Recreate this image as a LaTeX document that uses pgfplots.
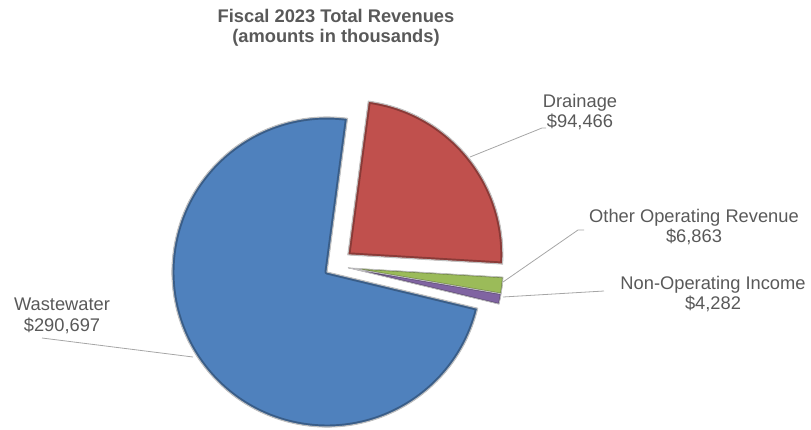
\documentclass[border=0pt]{standalone}
\usepackage{pgfplots}
\pgfplotsset{compat=1.18}
\usepackage{pgfplotstable}
\usepackage{fontspec}
\setmainfont{Liberation Sans}
\definecolor{cBlue}{HTML}{4F81BD}
\definecolor{cRed}{HTML}{C0504D}
\definecolor{cGreen}{HTML}{9BBB59}
\definecolor{cPurple}{HTML}{8064A2}
\definecolor{txt}{HTML}{595959}
\definecolor{lead}{HTML}{A6A6A6}
\tikzset{
  bevel/.style={draw=#1!72!black, line width=5pt, line join=round},
  thin bevel/.style={draw=#1!70!black, line width=2pt, line join=round},
  rim/.style={draw=gray!50, line width=1.1pt, line join=round},
  lab/.style={anchor=base, text=txt, font=\fontsize{18.3}{21}\selectfont},
}

\pgfplotstableread[col sep=comma]{
name,value
Drainage,94466
Other Operating Revenue,6863
Non-Operating Income,4282
Wastewater,290697
}\revenue

\begin{document}
\begin{tikzpicture}
\pgfplotstablegetelem{0}{value}\of\revenue \edef\vD{\pgfplotsretval}
\pgfplotstablegetelem{1}{value}\of\revenue \edef\vO{\pgfplotsretval}
\pgfplotstablegetelem{2}{value}\of\revenue \edef\vN{\pgfplotsretval}
\pgfplotstablegetelem{3}{value}\of\revenue \edef\vW{\pgfplotsretval}
\edef\tot{\fpeval{\vD+\vO+\vN+\vW}}
\def\aS{82.4}
\edef\eD{\fpeval{\aS-360*\vD/\tot}}
\edef\eO{\fpeval{\eD-360*\vO/\tot}}
\edef\eN{\fpeval{\eO-360*\vN/\tot}}
\edef\eW{\fpeval{\eN-360*\vW/\tot}}
\edef\mD{\fpeval{(\aS+\eD)/2}}
\def\pW{(axis cs:327,272) -- ++(\eN:155pt) arc[start angle=\eN, end angle=\eW, radius=155pt] -- cycle}
\def\pD{([shift={(\mD:27pt)}]axis cs:327,272) -- ++(\aS:155pt) arc[start angle=\aS, end angle=\eD, radius=155pt] -- cycle}
\def\pO{([shift={(11:21.7pt)}]axis cs:327,272) -- ++(\eD:155pt) arc[start angle=\eD, end angle=\eO, radius=155pt] -- cycle}
\def\pN{([shift={(11:21.7pt)}]axis cs:327,272) -- ++(\eO:155pt) arc[start angle=\eO, end angle=\eN, radius=155pt] -- cycle}
\begin{axis}[
  x=1pt, y=1pt, xmin=0, xmax=811, ymin=0, ymax=429,
  y dir=reverse, hide axis, clip=false,
]
% Wastewater
\fill[cBlue] \pW;
\begin{scope}\clip \pW; \draw[bevel=cBlue] \pW; \end{scope}
\draw[rim] \pW;
% Drainage
\fill[cRed] \pD;
\begin{scope}\clip \pD; \draw[bevel=cRed] \pD; \end{scope}
\draw[rim] \pD;
% Other operating revenue
\fill[cGreen] \pO;
\begin{scope}\clip \pO; \draw[thin bevel=cGreen] \pO; \end{scope}
\draw[rim, line width=0.8pt] \pO;
% Non-operating income
\fill[cPurple] \pN;
\begin{scope}\clip \pN; \draw[thin bevel=cPurple] \pN; \end{scope}
\draw[rim, line width=0.8pt] \pN;
% leader lines
\draw[lead, line width=0.8pt] (axis cs:470,157) -- (axis cs:542,128) -- (axis cs:546,128);
\draw[lead, line width=0.8pt] (axis cs:503,282) -- (axis cs:578,230) -- (axis cs:584,230);
\draw[lead, line width=0.8pt] (axis cs:503,297) -- (axis cs:604,291);
\draw[lead, line width=0.8pt] (axis cs:193,357) -- (axis cs:42,338);
% title
\node[lab, font=\bfseries\fontsize{18.3}{21}\selectfont] at (axis cs:336,22) {Fiscal 2023 Total Revenues};
\node[lab, font=\bfseries\fontsize{18.3}{21}\selectfont] at (axis cs:336,42) {(amounts in thousands)};
% labels
\node[lab] at (axis cs:580,107) {Drainage};
\node[lab] at (axis cs:580,127) {\$94,466};
\node[lab] at (axis cs:694,222) {Other Operating Revenue};
\node[lab] at (axis cs:694,242) {\$6,863};
\node[lab] at (axis cs:713,289) {Non-Operating Income};
\node[lab] at (axis cs:713,309) {\$4,282};
\node[lab] at (axis cs:62,310) {Wastewater};
\node[lab] at (axis cs:62,331) {\$290,697};
\end{axis}
\pgfresetboundingbox
\path (0,0) rectangle (811pt,429pt);
\end{tikzpicture}
\end{document}
